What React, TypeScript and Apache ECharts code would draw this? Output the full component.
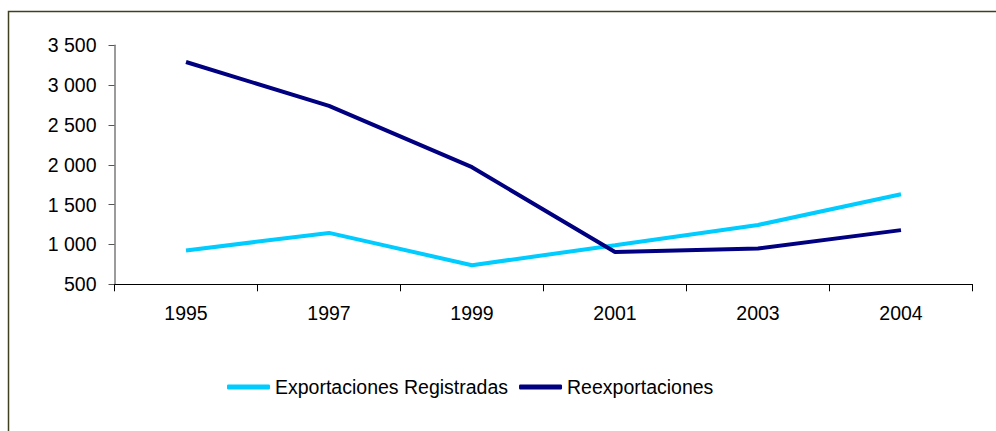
import React, { useEffect, useRef } from "react";
import * as echarts from "echarts";

const years = ["1995", "1997", "1999", "2001", "2003", "2004"];
const exportaciones = [925, 1145, 740, 990, 1245, 1630];
const reexportaciones = [3290, 2740, 1970, 905, 950, 1180];

const fmt = (v: number) => {
  if (v >= 1000) {
    const th = Math.floor(v / 1000);
    const rest = String(v % 1000).padStart(3, "0");
    return th + " " + rest;
  }
  return String(v);
};

export default function App() {
  const ref = useRef<HTMLDivElement>(null);
  useEffect(() => {
    if (!ref.current) return;
    const chart = echarts.init(ref.current, null, { renderer: "svg" });
    const font = "Arial, 'Liberation Sans', sans-serif";
    chart.setOption({
      animation: false,
      backgroundColor: "#ffffff",
      textStyle: { fontFamily: font },
      graphic: [
        {
          type: "rect",
          shape: { x: 8.5, y: 11.5, width: 1000, height: 500 },
          style: { fill: "none", stroke: "#404020", lineWidth: 1.5 },
          silent: true,
        },
      ],
      grid: { left: 114.5, right: 23.5, top: 45.3, bottom: 146.7 },
      legend: {
        left: 227,
        top: 377,
        padding: 0,
        itemWidth: 43,
        itemHeight: 5,
        itemGap: 11,
        icon: "roundRect",
        textStyle: { fontSize: 19.5, color: "#000", fontFamily: font },
        data: ["Exportaciones Registradas", "Reexportaciones"],
      },
      xAxis: {
        type: "category",
        data: years,
        boundaryGap: true,
        axisLine: { lineStyle: { color: "#000", width: 1 } },
        axisTick: { show: true, length: 7, lineStyle: { color: "#000" } },
        axisLabel: { fontSize: 19.5, color: "#000", margin: 19, fontFamily: font },
        splitLine: { show: false },
      },
      yAxis: {
        type: "value",
        min: 500,
        max: 3500,
        interval: 500,
        axisLine: { show: true, lineStyle: { color: "#7a7a7a", width: 1.5 } },
        axisTick: { show: true, length: 6, lineStyle: { color: "#555" } },
        axisLabel: {
          fontSize: 19.5,
          color: "#000",
          margin: 18,
          fontFamily: font,
          formatter: (v: number) => fmt(v),
        },
        splitLine: { show: false },
      },
      series: [
        {
          name: "Exportaciones Registradas",
          type: "line",
          data: exportaciones,
          showSymbol: false,
          symbol: "none",
          lineStyle: { color: "#00ccff", width: 4 },
          itemStyle: { color: "#00ccff" },
        },
        {
          name: "Reexportaciones",
          type: "line",
          data: reexportaciones,
          showSymbol: false,
          symbol: "none",
          lineStyle: { color: "#000080", width: 4 },
          itemStyle: { color: "#000080" },
        },
      ],
    });
    return () => chart.dispose();
  }, []);
  return (
    <div
      ref={ref}
      style={{ position: "fixed", left: 0, top: 0, width: 996, height: 431 }}
    />
  );
}
